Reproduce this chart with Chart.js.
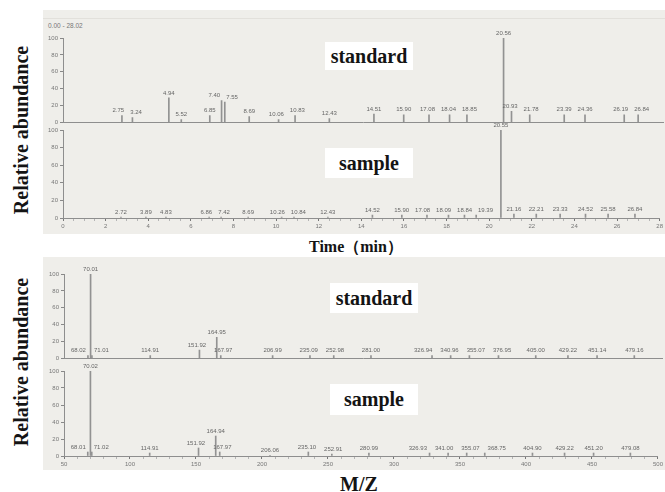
<!DOCTYPE html>
<html>
<head>
<meta charset="utf-8">
<script src="https://cdn.jsdelivr.net/npm/chart.js@4"></script>
<style>
  html, body { margin: 0; padding: 0; background: #fff; }
  #stage { position: relative; width: 665px; height: 492px; overflow: hidden; }
  .panel { position: absolute; background: #efeeea; }
  canvas { position: absolute; }
  .tag { position: absolute; background: #fff; color: #141414; font: bold 20px "Liberation Serif", "Times New Roman", serif; text-align: center; z-index: 5; }
  .axisTitle { position: absolute; color: #141414; font: bold 20px "Liberation Serif", "Times New Roman", serif; white-space: nowrap; transform: translate(-50%, -50%); z-index: 5; }
  .range { position: absolute; left: 48px; top: 22px; font: 6.5px "Liberation Sans", Arial, sans-serif; color: #777; }
</style>
</head>
<body>
<div id="stage">
  <div class="panel" style="left:43px;top:10px;width:622px;height:224px;"></div>
  <div class="panel" style="left:43px;top:18px;width:622px;height:1px;background:#e2e0db;"></div>
  <div class="panel" style="left:43px;top:257px;width:622px;height:213px;"></div>
  <div class="range" id="rangeText"></div>

  <canvas id="stdTic" width="625" height="108" style="left:40px;top:20px;"></canvas>
  <canvas id="smpTic" width="625" height="116" style="left:40px;top:118px;"></canvas>
  <canvas id="stdMs" width="625" height="102" style="left:40px;top:262px;"></canvas>
  <canvas id="smpMs" width="625" height="111" style="left:40px;top:359px;"></canvas>

  <div class="tag" style="left:325px;top:42px;width:88px;height:28px;line-height:28px;">standard</div>
  <div class="tag" style="left:325px;top:148px;width:88px;height:30px;line-height:30px;">sample</div>
  <div class="tag" style="left:330px;top:283px;width:88px;height:30px;line-height:30px;">standard</div>
  <div class="tag" style="left:330px;top:384px;width:88px;height:31px;line-height:31px;">sample</div>

  <div class="axisTitle" style="left:21px;top:130px;transform:translate(-50%,-50%) rotate(-90deg);">Relative abundance</div>
  <div class="axisTitle" style="left:21px;top:362px;transform:translate(-50%,-50%) rotate(-90deg);">Relative abundance</div>
  <div class="axisTitle" style="left:356px;top:247px;font-size:16px;">Time（min）</div>
  <div class="axisTitle" style="left:359px;top:484px;">M/Z</div>
</div>

<script>
// 크로마토그램 (standard / sample)
const timeRange = [0, 28];
const timeRangeText = '0.00 - 28.02';
const stdTime = [2.75, 3.24, 4.94, 5.52, 6.85, 7.40, 7.55, 8.69, 10.06, 10.83, 12.43, 14.51, 15.90, 17.08, 18.04, 18.85, 20.56, 20.93, 21.78, 23.39, 24.36, 26.19, 26.84];
const stdTimeAbund = [8, 5.7, 29, 3.4, 8, 26, 24, 7, 3.4, 8, 4.6, 10, 9, 9, 9, 9, 100, 13, 9, 9, 9, 9, 9];
const smpTime = [2.72, 3.89, 4.83, 6.86, 7.42, 8.69, 10.26, 10.84, 12.43, 14.52, 15.90, 17.08, 18.09, 18.84, 19.39, 20.55, 21.16, 22.21, 23.33, 24.52, 25.58, 26.84];
const smpTimeAbund = [1, 1, 1, 1, 1, 1, 1, 1, 1, 3.4, 3.4, 3.4, 3.4, 3.4, 3.4, 100, 4.5, 4.5, 4.5, 4.5, 4.5, 4.5];

// 질량 스펙트럼 (standard / sample)
const mzRange = [50, 500];
const stdMz = [68.02, 70.01, 71.01, 114.91, 151.92, 164.95, 167.97, 206.99, 235.09, 252.98, 281.00, 326.94, 340.96, 355.07, 376.95, 405.00, 429.22, 451.14, 479.16];
const stdMzAbund = [3.4, 100, 3.4, 3.4, 10, 25, 3.4, 3.4, 3.4, 3.4, 3.4, 3.4, 3.4, 3.4, 3.4, 3.4, 3.4, 3.4, 3.4];
const smpMz = [68.01, 70.02, 71.02, 114.91, 151.92, 164.94, 167.97, 206.06, 235.10, 252.91, 280.99, 326.93, 341.00, 355.07, 368.75, 404.90, 429.22, 451.20, 479.08];
const smpMzAbund = [4.7, 100, 4.7, 3.5, 9.4, 23.5, 4.7, 0.5, 4.7, 2.4, 3.5, 3.5, 3.5, 3.5, 3.5, 3.5, 3.5, 3.5, 3.5];

const smallFont = { family: '"Liberation Sans", Arial, sans-serif', size: 6 };

function isMajor(v, step) {
    const r = v / step;
    return Math.abs(r - Math.round(r)) < 1e-6;
}

// 피크 라벨: 겹치면 좌우로 벌려서 그림
const peakLabels = {
    id: 'peakLabels',
    afterDatasetsDraw(chart, args, opts) {
        const ctx = chart.ctx;
        const xs = chart.scales.x, ys = chart.scales.y;
        ctx.save();
        ctx.font = '6px "Liberation Sans", Arial, sans-serif';
        const items = chart.data.datasets[0].data.map(p => {
            const ax = xs.getPixelForValue(p.x);
            return { text: p.label, ax: ax, x: ax, y: ys.getPixelForValue(p.y) - 2, w: ctx.measureText(p.label).width };
        });
        for (let iter = 0; iter < 60; iter++) {
            let moved = false;
            const sorted = items.slice().sort((a, b) => a.x - b.x);
            for (let i = 0; i < sorted.length; i++) {
                for (let j = i + 1; j < sorted.length; j++) {
                    const a = sorted[i], b = sorted[j];
                    if (Math.abs(a.y - b.y) >= 6) continue;
                    const need = (a.w + b.w) / 2 + opts.gap;
                    const d = b.x - a.x;
                    if (d < need - 0.1) {
                        const push = (need - d) / 2;
                        a.x -= push;
                        b.x += push;
                        moved = true;
                    }
                }
            }
            if (!moved) break;
        }
        ctx.fillStyle = '#666';
        ctx.textAlign = 'center';
        ctx.textBaseline = 'bottom';
        items.forEach(it => ctx.fillText(it.text, it.x, it.y));
        ctx.restore();
    }
};

function spectrum(id, xVals, yVals, cfg) {
    const pts = xVals.map((x, i) => ({ x: x, y: yVals[i], label: x.toFixed(2) }));
    return new Chart(document.getElementById(id), {
        type: 'bar',
        data: {
            datasets: [{
                data: pts,
                backgroundColor: '#929292',
                barThickness: 1,
                grouped: false
            }]
        },
        options: {
            responsive: false,
            animation: false,
            layout: { padding: cfg.pad },
            plugins: {
                legend: { display: false },
                tooltip: { enabled: false },
                peakLabels: { gap: cfg.gap }
            },
            scales: {
                x: {
                    type: 'linear',
                    min: cfg.range[0],
                    max: cfg.range[1],
                    offset: false,
                    ticks: {
                        display: cfg.xLabels,
                        stepSize: cfg.minor,
                        autoSkip: false,
                        maxRotation: 0,
                        padding: 2,
                        color: '#777',
                        font: smallFont,
                        callback: v => isMajor(v, cfg.major) ? v : ''
                    },
                    grid: {
                        offset: false,
                        drawOnChartArea: false,
                        drawTicks: cfg.xLabels,
                        tickLength: 3,
                        tickColor: c => (c.tick && isMajor(c.tick.value, cfg.major)) ? '#777' : '#b5b5b5'
                    },
                    border: { color: '#8e8e8e' },
                    afterFit: s => { s.height = cfg.xHeight; }
                },
                y: {
                    min: 0,
                    max: 100,
                    ticks: {
                        stepSize: 10,
                        padding: 2,
                        color: '#777',
                        font: smallFont,
                        callback: v => v % 20 === 0 ? v : ''
                    },
                    grid: {
                        drawOnChartArea: false,
                        tickLength: 3,
                        tickColor: c => (c.tick && c.tick.value % 20 === 0) ? '#888' : '#bbb'
                    },
                    border: { color: '#8e8e8e' },
                    afterFit: s => { s.width = cfg.yWidth; }
                }
            }
        },
        plugins: [peakLabels]
    });
}

document.getElementById('rangeText').textContent = timeRangeText;

spectrum('stdTic', stdTime, stdTimeAbund, {
    range: timeRange, minor: 0.5, major: 2, xLabels: false, xHeight: 0, yWidth: 23, gap: 6,
    pad: { top: 18, bottom: 3, left: 0, right: 2 }
});
spectrum('smpTic', smpTime, smpTimeAbund, {
    range: timeRange, minor: 0.5, major: 2, xLabels: true, xHeight: 16, yWidth: 23, gap: 6,
    pad: { top: 12, bottom: 0, left: 0, right: 2 }
});
spectrum('stdMs', stdMz, stdMzAbund, {
    range: mzRange, minor: 10, major: 50, xLabels: false, xHeight: 0, yWidth: 24, gap: 8,
    pad: { top: 12, bottom: 3, left: 0, right: 3 }
});
spectrum('smpMs', smpMz, smpMzAbund, {
    range: mzRange, minor: 10, major: 50, xLabels: true, xHeight: 14, yWidth: 24, gap: 8,
    pad: { top: 12, bottom: 0, left: 0, right: 3 }
});
</script>
</body>
</html>
